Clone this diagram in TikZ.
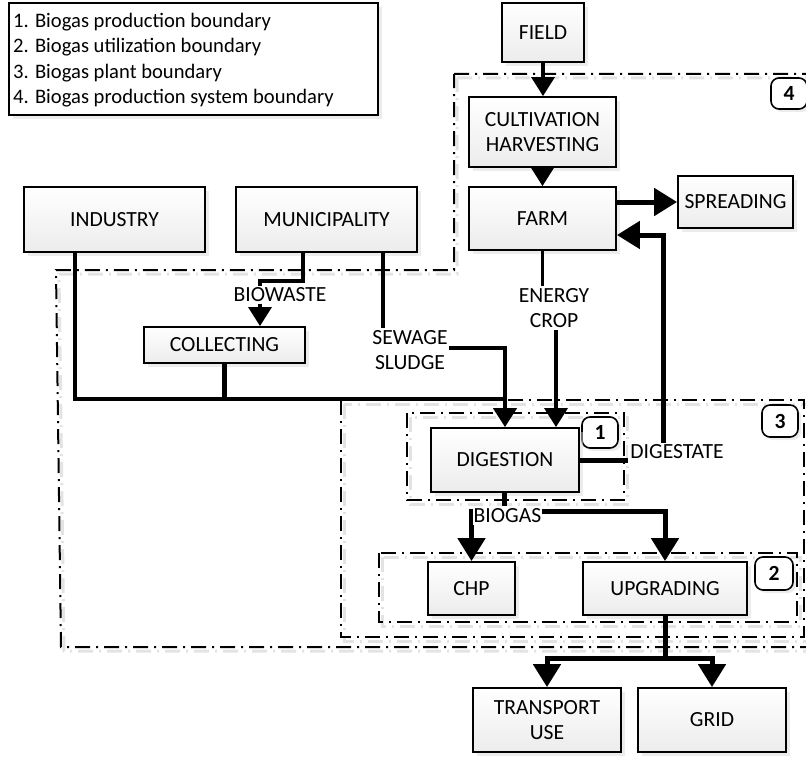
\documentclass[tikz,border=0pt]{standalone}
\usepackage{fontspec}
\setmainfont{Carlito}
\usetikzlibrary{arrows.meta,shadows}
\newcommand\dfont{\fontsize{20.6}{25.3}\selectfont}
\newcommand\bfont{\fontsize{21.6}{25.8}\selectfont}
\begin{document}
\begin{tikzpicture}[x=1pt,y=-1pt,
 >={Triangle[length=19pt,width=23pt]},
 bigtip/.style={-{Triangle[length=23pt,width=27pt]}},
 box/.style={draw, line width=1.8pt, top color=white, bottom color=gray!15,
   drop shadow={shadow xshift=4pt,shadow yshift=-4pt,fill=gray!30},
   inner sep=1pt, align=center, font=\bfont},
 numbox/.style={draw, line width=1.6pt, rounded corners=8pt, fill=white,
   drop shadow={shadow xshift=3pt,shadow yshift=-3pt,fill=gray!30},
   inner sep=0pt, font=\bfont\bfseries, minimum width=36pt, minimum height=31pt},
 lbl/.style={fill=white, inner xsep=1pt, inner ysep=2pt, font=\bfont, align=center},
 bound/.style={line width=2pt, dash pattern=on 15pt off 6pt on 2pt off 6pt},
 bshadow/.style={bound, draw=gray!22, line width=3pt},
 thinl/.style={line width=3.3pt},
 medl/.style={line width=4.2pt},
 thickl/.style={line width=5pt},
 legtxt/.style={anchor=base west, inner sep=0pt, font=\dfont}
]
\useasboundingbox (0,0) rectangle (806,757);

% ---------- boundaries (shadows first) ----------
\begin{scope}[shift={(3,4)}]
\draw[bshadow] (454,74) -- (812,74) -- (812,647) -- (61,647) -- (56,270) -- (454,270) -- cycle;
\draw[bshadow] (341,400) rectangle (804,637);
\draw[bshadow] (379,553) rectangle (797,622);
\draw[bshadow] (407,413) rectangle (624,500);
\end{scope}
\draw[bound] (454,74) -- (812,74) -- (812,647) -- (61,647) -- (56,270) -- (454,270) -- cycle;
\draw[bound] (341,400) rectangle (804,637);
\draw[bound] (379,553) rectangle (797,622);
\draw[bound] (407,413) rectangle (624,500);

% ---------- legend ----------
\node[draw, line width=1.6pt, fill=white,
  drop shadow={shadow xshift=4pt,shadow yshift=-4pt,fill=gray!30},
  minimum width=369pt, minimum height=112pt, inner sep=0pt] (legend) at (193.5,59) {};
\node[legtxt] (leg1) at (13,27.5) {1. Biogas production boundary};
\node[legtxt] (leg2) at (13,52.8) {2. Biogas utilization boundary};
\node[legtxt] (leg3) at (13,78.1) {3. Biogas plant boundary};
\node[legtxt] (leg4) at (13,103.4) {4. Biogas production system boundary};

% ---------- number labels ----------
\node[numbox] (n1) at (600,432.5) {1};
\node[numbox, minimum width=38pt, minimum height=33pt] (n2) at (774,573.5) {2};
\node[numbox, minimum height=32pt] (n3) at (780,421) {3};
\node[numbox] (n4) at (789,93.5) {4};

% ---------- boxes ----------
\node[box, minimum width=82pt, minimum height=59pt] (field) at (543,32.5) {FIELD};
\node[box, minimum width=147pt, minimum height=70pt] (cult) at (542.5,132) {CULTIVATION\\HARVESTING};
\node[box, minimum width=147pt, minimum height=63pt] (farm) at (542.5,218.5) {FARM};
\node[box, minimum width=115pt, minimum height=52pt] (spread) at (735.5,202) {SPREADING};
\node[box, minimum width=181pt, minimum height=65pt] (industry) at (114.5,219.5) {INDUSTRY};
\node[box, minimum width=181pt, minimum height=65pt] (muni) at (326.5,219.5) {MUNICIPALITY};
\node[box, minimum width=161pt, minimum height=36pt] (collect) at (224.5,345) {COLLECTING};
\node[box, minimum width=148pt, minimum height=64pt] (digest) at (505,460) {DIGESTION};
\node[box, minimum width=87pt, minimum height=53pt] (chp) at (471.5,588.5) {CHP};
\node[box, minimum width=164pt, minimum height=53pt] (upgrade) at (665,588.5) {UPGRADING};
\node[box, minimum width=148pt, minimum height=64pt] (transport) at (547,720) {TRANSPORT\\USE};
\node[box, minimum width=148pt, minimum height=64pt] (grid) at (712,720) {GRID};

\node[lbl, inner xsep=2pt] (digestate) at (677,452) {DIGESTATE};

% ---------- junction coordinates ----------
\coordinate (j1) at (75,399);
\coordinate (j2) at (505,399);
\coordinate (bw) at (303,281);
\coordinate (bw2) at (260,281);
\coordinate (sw) at (383,348);
\coordinate (ec1) at (542.5,308);
\coordinate (ec2) at (556,308);
\coordinate (bg) at (504,511);
\coordinate (up) at (665,658);
\coordinate (fr) at (663,235);

% ---------- connectors ----------
\draw[thinl,->] (field.south) -- (field.south |- cult.north);
\draw[thinl,->] (cult.south) -- (cult.south |- farm.north);
\draw[thickl,bigtip] (farm.east |- spread.west) -- (spread.west);
\draw[thickl] (digest.east) -- (digest.east -| digestate.west);
\draw[thickl,bigtip] (digestate.north -| fr) -- (fr) -- (fr -| farm.east);

\draw[medl] (industry.south -| j1) -- (j1) -- (j2);
\draw[medl] (collect.south) -- (collect.south |- j1);
\draw[medl,->] (j2) -- (j2 |- digest.north);
\draw[thinl] (muni.south -| sw) -- (sw) -- (sw -| j2) -- (j2);
\draw[thinl,->] (muni.south -| bw) -- (bw) -- (bw2) -- (bw2 |- collect.north);
\draw[thinl,->] (farm.south) -- (ec1) -- (ec2) -- (ec2 |- digest.north);

\draw[thickl,bigtip] (digest.south -| bg) -- (bg) -- (bg -| chp.north) -- (chp.north);
\draw[thickl,bigtip] (bg) -- (bg -| upgrade.north) -- (upgrade.north);
\draw[thickl,bigtip] (upgrade.south) -- (up) -- (up -| transport.north) -- (transport.north);
\draw[thickl,bigtip] (up) -- (up -| grid.north) -- (grid.north);

% ---------- labels on connectors ----------
\node[lbl] (biowaste) at (280,295) {BIOWASTE};
\node[lbl] (sewage) at (410,350) {SEWAGE\\SLUDGE};
\node[lbl] (energy) at (554,308) {ENERGY\\CROP};
\node[lbl] (biogas) at (507.5,515.5) {BIOGAS};
\end{tikzpicture}
\end{document}
